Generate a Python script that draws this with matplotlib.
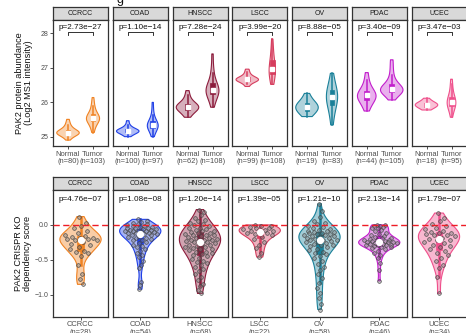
import numpy as np
import matplotlib.pyplot as plt

plt.rcParams['font.family'] = ['Liberation Sans', 'DejaVu Sans']

cancers = ['CCRCC', 'COAD', 'HNSCC', 'LSCC', 'OV', 'PDAC', 'UCEC']
line_colors = ['#F08222', '#1F3FE6', '#8C1C3C', '#D63D5E', '#1A8099', '#C21DCC', '#EF4F8B']

protein_pvals = ['2.73e\u221227', '1.10e\u221214', '7.28e\u221224', '3.99e\u221220',
                 '8.88e\u221205', '3.40e\u221209', '3.47e\u221203']
normal_n = [80, 100, 62, 99, 19, 44, 18]
tumor_n = [103, 97, 108, 108, 83, 105, 95]

crispr_pvals = ['4.76e\u221207', '1.08e\u221208', '1.20e\u221214', '1.39e\u221205',
                '1.21e\u221210', '2.13e\u221214', '1.79e\u221207']
crispr_n = [28, 54, 68, 22, 58, 46, 34]

# PAK2 abundance (log2 MS1 intensity), normal vs tumor
ccrcc_normal = [24.91, 24.97, 25.00, 25.03, 25.05, 25.06, 25.08, 25.09, 25.10, 25.11, 25.12, 25.12, 25.13,
                25.13, 25.14, 25.15, 25.16, 25.18, 25.20, 25.22, 25.24, 25.27, 25.31, 25.36, 25.42, 25.51]
ccrcc_tumor = [25.13, 25.22, 25.30, 25.36, 25.40, 25.43, 25.46, 25.48, 25.50, 25.52, 25.53, 25.54,
               25.55, 25.56, 25.58, 25.60, 25.63, 25.66, 25.70, 25.75, 25.82, 25.90, 26.00, 26.14]
coad_normal = [25.01, 25.05, 25.08, 25.10, 25.12, 25.14, 25.15, 25.16, 25.17, 25.17, 25.18, 25.19,
               25.20, 25.22, 25.24, 25.26, 25.30, 25.36, 25.47]
coad_tumor = [25.01, 25.08, 25.14, 25.19, 25.22, 25.25, 25.28, 25.30, 25.32, 25.33, 25.34, 25.35,
              25.37, 25.40, 25.43, 25.46, 25.50, 25.56, 25.65, 25.80, 26.00]
hnscc_normal = [25.57, 25.64, 25.70, 25.74, 25.77, 25.80, 25.82, 25.84, 25.86, 25.87, 25.88, 25.90,
                25.92, 25.95, 25.98, 26.03, 26.10, 26.20, 26.34]
hnscc_tumor = [25.86, 25.98, 26.08, 26.15, 26.20, 26.24, 26.28, 26.31, 26.33, 26.35, 26.37, 26.40,
               26.44, 26.48, 26.53, 26.60, 26.70, 26.85, 27.05, 27.40]
lscc_normal = [26.46, 26.54, 26.58, 26.61, 26.63, 26.64, 26.65, 26.66, 26.67, 26.68, 26.70, 26.72,
               26.75, 26.80, 26.87, 26.96]
lscc_tumor = [26.52, 26.62, 26.70, 26.76, 26.80, 26.84, 26.88, 26.91, 26.94, 26.98, 27.03, 27.09,
              27.16, 27.24, 27.35, 27.50, 27.65, 27.83]
ov_normal = [25.59, 25.64, 25.69, 25.73, 25.77, 25.80, 25.83, 25.86, 25.88, 25.90, 25.93, 25.96,
             26.00, 26.06, 26.14, 26.26]
ov_tumor = [25.35, 25.55, 25.70, 25.82, 25.90, 25.96, 26.02, 26.07, 26.12, 26.16, 26.19, 26.23,
            26.28, 26.33, 26.38, 26.45, 26.55, 26.68, 26.84]
pdac_normal = [25.75, 25.86, 25.95, 26.02, 26.06, 26.10, 26.14, 26.17, 26.19, 26.21, 26.23, 26.26,
               26.30, 26.35, 26.42, 26.52, 26.66, 26.86]
pdac_tumor = [26.07, 26.17, 26.23, 26.27, 26.30, 26.32, 26.34, 26.35, 26.36, 26.38, 26.41, 26.44,
              26.47, 26.51, 26.57, 26.66, 26.80, 27.00, 27.23]
ucec_normal = [25.78, 25.82, 25.85, 25.88, 25.90, 25.92, 25.93, 25.94, 25.96, 25.98, 26.01, 26.05, 26.12]
ucec_tumor = [25.57, 25.70, 25.79, 25.85, 25.89, 25.92, 25.95, 25.98, 26.00, 26.02, 26.05, 26.09,
              26.13, 26.18, 26.26, 26.38, 26.52, 26.67]

# PAK2 CRISPR KO dependency score per cell line
ccrcc_dep = [0.12, 0.03, -0.02, -0.04, -0.08, -0.12, -0.14, -0.16, -0.17, -0.18,
             -0.19, -0.20, -0.20, -0.21, -0.22, -0.24, -0.27, -0.29, -0.31, -0.35,
             -0.37, -0.38, -0.40, -0.45, -0.57, -0.70, -0.77, -0.85]
coad_dep = [0.08, 0.06, 0.04, 0.03, 0.02, 0.01, 0.00, -0.01, -0.02, -0.03,
            -0.03, -0.04, -0.05, -0.05, -0.06, -0.06, -0.07, -0.07, -0.08, -0.08,
            -0.09, -0.09, -0.10, -0.10, -0.11, -0.11, -0.12, -0.13, -0.13, -0.14,
            -0.15, -0.16, -0.17, -0.18, -0.19, -0.20, -0.21, -0.22, -0.24, -0.26,
            -0.28, -0.30, -0.32, -0.34, -0.37, -0.40, -0.43, -0.46, -0.52, -0.58,
            -0.62, -0.82, -0.86, -0.92]
hnscc_dep = [0.22, 0.18, 0.14, 0.10, 0.07, 0.05, 0.03, 0.01, 0.00, -0.02,
             -0.04, -0.05, -0.06, -0.07, -0.08, -0.09, -0.10, -0.11, -0.12, -0.13,
             -0.14, -0.14, -0.15, -0.16, -0.17, -0.18, -0.19, -0.20, -0.21, -0.22,
             -0.22, -0.23, -0.23, -0.24, -0.25, -0.26, -0.27, -0.28, -0.29, -0.30,
             -0.31, -0.32, -0.33, -0.34, -0.35, -0.36, -0.38, -0.39, -0.40, -0.41,
             -0.43, -0.45, -0.47, -0.49, -0.51, -0.53, -0.55, -0.58, -0.60, -0.63,
             -0.66, -0.70, -0.74, -0.79, -0.84, -0.88, -0.93, -0.98]
lscc_dep = [0.00, -0.01, -0.02, -0.03, -0.04, -0.05, -0.06, -0.07, -0.08, -0.09,
            -0.10, -0.11, -0.12, -0.13, -0.15, -0.17, -0.20, -0.24, -0.28, -0.33,
            -0.40, -0.46]
ov_dep = [0.30, 0.20, 0.12, 0.06, 0.03, 0.01, -0.01, -0.03, -0.05, -0.06,
          -0.07, -0.08, -0.09, -0.10, -0.10, -0.11, -0.12, -0.13, -0.13, -0.14,
          -0.15, -0.16, -0.16, -0.17, -0.18, -0.19, -0.20, -0.21, -0.21, -0.22,
          -0.23, -0.24, -0.25, -0.26, -0.27, -0.28, -0.29, -0.30, -0.32, -0.34,
          -0.36, -0.38, -0.40, -0.42, -0.45, -0.48, -0.52, -0.56, -0.60, -0.65,
          -0.70, -0.76, -0.83, -0.90, -0.97, -1.05, -1.13, -1.21]
pdac_dep = [0.00, 0.00, -0.01, -0.02, -0.03, -0.04, -0.05, -0.07, -0.09, -0.11,
            -0.13, -0.15, -0.16, -0.17, -0.18, -0.19, -0.20, -0.21, -0.22, -0.22,
            -0.23, -0.23, -0.24, -0.24, -0.25, -0.25, -0.26, -0.26, -0.27, -0.27,
            -0.28, -0.28, -0.29, -0.29, -0.30, -0.31, -0.32, -0.33, -0.35, -0.37,
            -0.40, -0.43, -0.47, -0.54, -0.65, -0.80]
ucec_dep = [0.17, 0.10, 0.05, 0.02, -0.01, -0.04, -0.06, -0.08, -0.10, -0.11,
            -0.12, -0.13, -0.14, -0.15, -0.16, -0.18, -0.20, -0.21, -0.22, -0.24,
            -0.26, -0.28, -0.30, -0.32, -0.34, -0.37, -0.40, -0.43, -0.47, -0.52,
            -0.57, -0.62, -0.75, -0.98]

normal_vals = [ccrcc_normal, coad_normal, hnscc_normal, lscc_normal, ov_normal, pdac_normal, ucec_normal]
tumor_vals = [ccrcc_tumor, coad_tumor, hnscc_tumor, lscc_tumor, ov_tumor, pdac_tumor, ucec_tumor]
dep_vals = [ccrcc_dep, coad_dep, hnscc_dep, lscc_dep, ov_dep, pdac_dep, ucec_dep]

W, H = 466, 333
fig = plt.figure(figsize=(W / 100, H / 100), dpi=100)


def px_axes(x0, y0, x1, y1):
    return fig.add_axes([x0 / W, 1 - y1 / H, (x1 - x0) / W, (y1 - y0) / H])


def density(vals, grid, adjust):
    v = np.asarray(vals, float)
    n = len(v)
    q75, q25 = np.percentile(v, [75, 25])
    bw = adjust * 0.9 * min(v.std(ddof=1), (q75 - q25) / 1.34) * n ** -0.2
    z = (grid[:, None] - v[None, :]) / bw
    return np.exp(-0.5 * z ** 2).sum(1) / (n * bw * np.sqrt(2 * np.pi))


def trimmed_grid(vals):
    return np.linspace(min(vals), max(vals), 200)


def violin(ax, vals, x, scale, color, adjust, alpha, lw=0.8):
    grid = trimmed_grid(vals)
    hw = 0.45 * density(vals, grid, adjust) / scale
    ax.fill_betweenx(grid, x - hw, x + hw, facecolor=color, alpha=alpha, lw=0, zorder=1)
    ax.fill_betweenx(grid, x - hw, x + hw, facecolor='none', edgecolor=color, lw=lw, zorder=2)
    return grid, hw


def box(ax, vals, x, width, color, wlw, marker, msize):
    ax.boxplot([vals], positions=[x], widths=width, patch_artist=True, showfliers=False,
               showcaps=False, manage_ticks=False,
               boxprops=dict(facecolor=color, edgecolor=color, lw=0.5),
               whiskerprops=dict(color=color, lw=wlw),
               medianprops=dict(visible=False), zorder=3)
    ax.plot([x], [np.median(vals)], marker=marker, ms=msize, mfc='white', mec='white', zorder=6)


def style_panel(ax):
    for s in ax.spines.values():
        s.set_linewidth(0.9)
        s.set_color('#333333')
    ax.tick_params(length=2, width=0.6, color='#333333', labelcolor='#4D4D4D', pad=1.5)


def strip(x0, y0, x1, y1, label):
    s = px_axes(x0, y0, x1, y1)
    s.set_facecolor('#D9D9D9')
    s.set_xticks([])
    s.set_yticks([])
    for sp in s.spines.values():
        sp.set_linewidth(0.9)
        sp.set_color('#333333')
    s.text(0.5, 0.48, label, ha='center', va='center', fontsize=5, color='#1A1A1A',
           transform=s.transAxes)


pitch = 59.75
pw = 55
top_adjust = 1.6
dep_adjust = 1.25

for i, name in enumerate(cancers):
    x0 = 53 + i * pitch
    col = line_colors[i]

    # protein abundance row
    strip(x0, 6.5, x0 + pw, 20, name)
    ax = px_axes(x0, 20, x0 + pw, 146)
    style_panel(ax)
    groups = [normal_vals[i], tumor_vals[i]]
    peak = max(density(g, trimmed_grid(g), top_adjust).max() for g in groups)
    for j, g in enumerate(groups):
        violin(ax, g, j + 1, peak, col, top_adjust, 0.35)
        box(ax, g, j + 1, 0.19, col, 1.1, 's', 2.4)
    ax.set_xlim(0.4, 2.6)
    ax.set_ylim(24.74, 28.38)
    ax.set_xticks([1, 2])
    ax.set_xticklabels(['Normal\n(n=%d)' % normal_n[i], 'Tumor\n(n=%d)' % tumor_n[i]],
                       fontsize=5.4, linespacing=1.05)
    ax.set_yticks([25, 26, 27, 28])
    if i == 0:
        ax.set_yticklabels(['25', '26', '27', '28'], fontsize=5)
    else:
        ax.tick_params(axis='y', length=0, labelleft=False)
    ax.text(1.5, 28.17, 'p=' + protein_pvals[i], ha='center', va='center', fontsize=5.9, color='#111111')
    ax.plot([1, 1, 2, 2], [27.96, 28.02, 28.02, 27.96], color='#111111', lw=0.6)

    # CRISPR dependency row
    strip(x0, 177, x0 + pw, 190, name)
    bx = px_axes(x0, 190, x0 + pw, 316.5)
    style_panel(bx)
    vals = dep_vals[i]
    dens_peak = density(vals, trimmed_grid(vals), dep_adjust).max()
    g_y, g_hw = violin(bx, vals, 1, dens_peak, col, dep_adjust, 0.4)
    box(bx, vals, 1, 0.14, col, 1.8, 'o', 4.2)
    k = np.arange(len(vals))
    u = 2 * ((k * 0.618034 + 0.31) % 1) - 1
    offs = u * np.interp(vals, g_y, g_hw) * 0.85
    bx.scatter(1 + offs, vals, s=7, facecolor=(0.5, 0.5, 0.5, 0.45), edgecolor='#444444',
               linewidth=0.45, zorder=5)
    bx.axhline(0, color='#EE1C25', lw=1.0, ls=(0, (4.5, 2.5)), zorder=7)
    bx.set_xlim(0.4, 1.6)
    bx.set_ylim(-1.31, 0.5)
    bx.set_xticks([1])
    bx.set_xticklabels(['%s\n(n=%d)' % (name, crispr_n[i])], fontsize=5.4, linespacing=1.05)
    bx.set_yticks([0.0, -0.5, -1.0])
    if i == 0:
        bx.set_yticklabels(['0.0', '\u22120.5', '\u22121.0'], fontsize=5)
    else:
        bx.tick_params(axis='y', length=0, labelleft=False)
    bx.text(1, 0.37, 'p=' + crispr_pvals[i], ha='center', va='center', fontsize=5.9, color='#111111')

fig.text(24 / W, 1 - 83 / H, 'PAK2 protein abundance\n(Log2 MS1 intensity)', rotation=90,
         ha='center', va='center', fontsize=6.6, linespacing=1.1, color='#111111')
fig.text(23 / W, 1 - 253 / H, 'PAK2 CRISPR KO\ndependency score', rotation=90,
         ha='center', va='center', fontsize=6.6, linespacing=1.1, color='#111111')
fig.text(120 / W, 1 - 2.5 / H, 'g', ha='center', va='baseline', fontsize=9, color='#111111')

fig.savefig('out.png', dpi=100)
